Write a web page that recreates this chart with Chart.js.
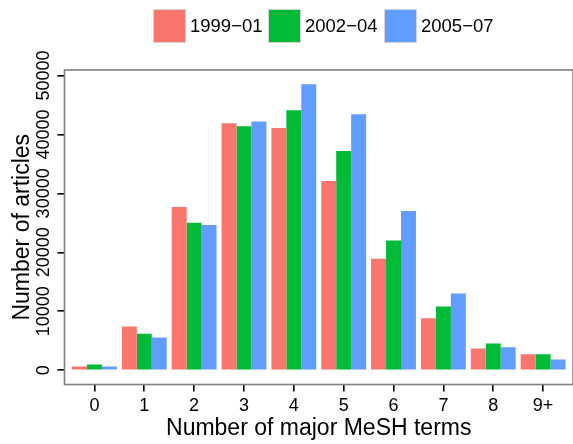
<!DOCTYPE html>
<html>
<head>
<meta charset="utf-8">
<script src="https://cdn.jsdelivr.net/npm/chart.js@4/dist/chart.umd.min.js"></script>
<style>
  html, body { margin: 0; padding: 0; background: #ffffff; }
  #wrap { position: relative; width: 573px; height: 444px; font-family: "Liberation Sans", Arial, sans-serif; }
  #chart { position: absolute; left: 0; top: 0; }
  .key { position: absolute; top: 9px; height: 34px; display: flex; align-items: center; }
  .swatch { width: 33px; height: 34px; box-sizing: border-box; border: 1px solid #d4d4d4; }
  .key span { margin-left: 4px; font-size: 18.5px; color: #000; line-height: 34px; }
</style>
</head>
<body>
<div id="wrap">
  <canvas id="chart" width="573" height="444"></canvas>
  <div id="legend"></div>
</div>
<script>
// Articles per number of major MeSH terms, by publication period
const categories = ['0', '1', '2', '3', '4', '5', '6', '7', '8', '9+'];
const periods = ['1999\u221201', '2002\u221204', '2005\u221207'];
const values1999 = [620, 7400, 27700, 41900, 41100, 32100, 18900, 8800, 3700, 2700];
const values2002 = [970, 6200, 25000, 41400, 44100, 37200, 22000, 10800, 4550, 2700];
const values2005 = [620, 5550, 24650, 42200, 48500, 43400, 27000, 13000, 3900, 1800];
const yTicks = [0, 10000, 20000, 30000, 40000, 50000];

const colors = ['#F8766D', '#00BA38', '#619CFF'];
const series = [values1999, values2002, values2005];

// legend row above the panel
const legendLefts = [153, 268, 384];
const legend = document.getElementById('legend');
periods.forEach((p, i) => {
  const item = document.createElement('div');
  item.className = 'key';
  item.style.left = legendLefts[i] + 'px';
  const sw = document.createElement('div');
  sw.className = 'swatch';
  sw.style.background = colors[i];
  const tx = document.createElement('span');
  tx.textContent = p;
  item.appendChild(sw);
  item.appendChild(tx);
  legend.appendChild(item);
});

// grey frame around the plotting panel
const panelFrame = {
  id: 'panelFrame',
  afterDatasetsDraw(chart) {
    const a = chart.chartArea;
    const ctx = chart.ctx;
    ctx.save();
    ctx.strokeStyle = '#7f7f7f';
    ctx.lineWidth = 1.6;
    ctx.strokeRect(a.left, a.top, a.right - a.left, a.bottom - a.top);
    ctx.restore();
  }
};

const font = "'Liberation Sans', Arial, sans-serif";

new Chart(document.getElementById('chart'), {
  type: 'bar',
  data: {
    labels: categories,
    datasets: series.map((d, i) => ({
      label: periods[i],
      data: d,
      backgroundColor: colors[i],
      borderWidth: 0,
      categoryPercentage: 0.9,
      barPercentage: 1.0
    }))
  },
  options: {
    responsive: false,
    animation: false,
    layout: { padding: { top: 70, right: 0, left: 0, bottom: 0 } },
    plugins: { legend: { display: false }, tooltip: { enabled: false } },
    scales: {
      x: {
        offset: true,
        border: { display: false },
        grid: { offset: false, drawOnChartArea: false, drawTicks: true, tickLength: 7, tickColor: '#000', tickWidth: 1.6, lineWidth: 1.6 },
        ticks: { color: '#000', font: { family: font, size: 18 }, padding: 4, maxRotation: 0, autoSkip: false },
        title: { display: true, text: 'Number of major MeSH terms', color: '#000', font: { family: font, size: 23 }, padding: { top: 0, bottom: 2 } },
        afterBuildTicks(scale) {
          // continuous extent of -0.6 .. 9.6 around the ten groups
          scale._startValue = -0.6;
          scale._valueRange = categories.length - 1 + 1.2;
        },
        afterFit(scale) { scale.height = 59.5; }
      },
      y: {
        min: -2425,
        max: 50925,
        border: { display: false },
        grid: { drawOnChartArea: false, drawTicks: true, tickLength: 7, tickColor: '#000', tickWidth: 1.6, lineWidth: 1.6 },
        ticks: {
          color: '#000', font: { family: font, size: 18 }, minRotation: 90, maxRotation: 90,
          crossAlign: 'center', padding: -11.5,
          callback: v => String(v)
        },
        title: { display: true, text: 'Number of articles', color: '#000', font: { family: font, size: 23 }, padding: { top: 9, bottom: 0 } },
        afterBuildTicks(scale) { scale.ticks = yTicks.map(v => ({ value: v })); },
        afterFit(scale) { scale.width = 64.5; }
      }
    }
  },
  plugins: [panelFrame]
});
</script>
</body>
</html>
